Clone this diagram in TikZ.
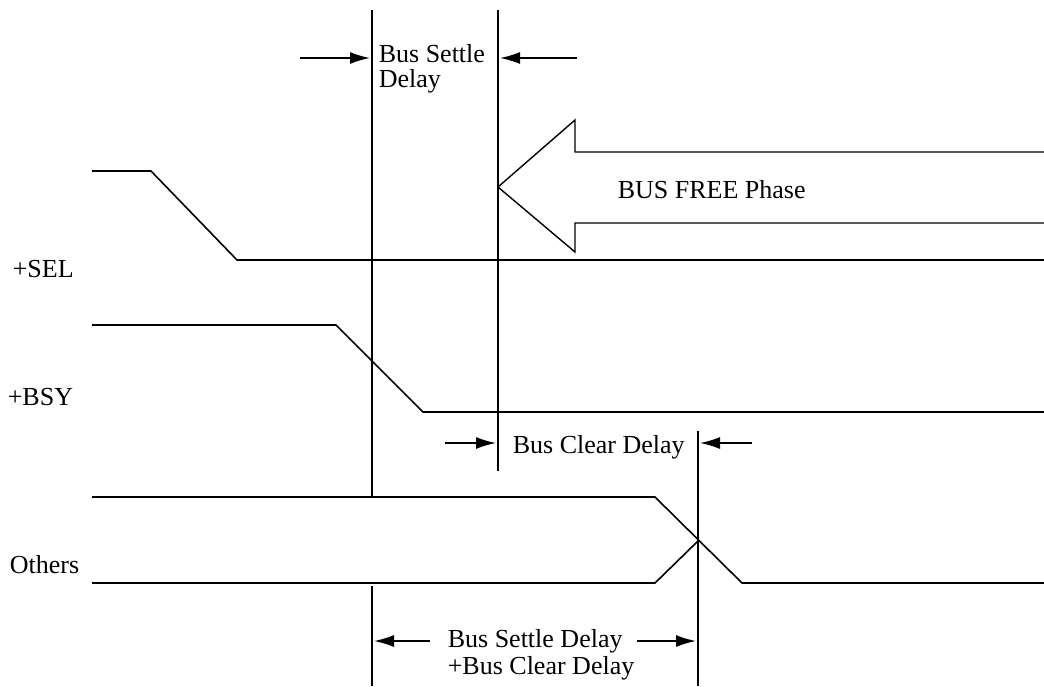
\documentclass[tikz,border=0pt]{standalone}
\usepackage{fontspec}
\setmainfont{Liberation Serif}
\usetikzlibrary{arrows.meta, positioning}

\begin{document}
\begin{tikzpicture}[x=1pt, y=-1pt, >={Latex[length=20pt,width=12pt]}, line width=1.6pt,
    txt/.style={font=\fontsize{26}{25}\selectfont, inner sep=0pt, align=left},
    outline/.style={line width=1.4pt, line join=miter}]
    \useasboundingbox (0,0) rectangle (1044,686);

    % Marker lines
    \coordinate (settleTop) at (372,10);
    \coordinate (settleMid) at (372,497);
    \coordinate (settleLow) at (372,586);
    \coordinate (settleBot) at (372,686);
    \coordinate (clearTop) at (498,10);
    \coordinate (clearBot) at (498,471);
    \coordinate (endTop) at (698,431);
    \coordinate (endBot) at (698,686);
    \draw (settleTop) -- (settleMid);
    \draw (settleLow) -- (settleBot);
    \draw (clearTop) -- (clearBot);
    \draw (endTop) -- (endBot);

    % Signal names
    \node [txt, anchor=base west] (sel) at (12,277) {+SEL};
    \node [txt, anchor=base west] (bsy) at (7,405) {+BSY};
    \node [txt, anchor=base west] (others) at (9,573) {Others};

    % Waveforms
    \draw (92,171) -- (151,171) -- (237,260) -- (1044,260);
    \draw (92,325) -- (336,325) -- (423,412) -- (1044,412);
    \draw (92,497) -- (655,497) -- (742,583) -- (1044,583);
    \draw (92,583) -- (655,583) -- (698,541);

    % BUS FREE arrow
    \draw [outline] (1044,152) -- (575,152) -- (575,120) -- (498,187)
        -- (575,252) -- (575,223) -- (1044,223);
    \node [txt, anchor=base west] (free) at (617,198) {BUS FREE Phase};

    % Bus Settle Delay
    \node [txt, anchor=north west] (settle) at (378,44) {Bus Settle\\Delay};
    \coordinate (settleInL) at (300,58);
    \coordinate (settleTipL) at (370,58);
    \coordinate (settleInR) at (577,58);
    \coordinate (settleTipR) at (500,58);
    \draw [->] (settleInL) -- (settleTipL);
    \draw [->] (settleInR) -- (settleTipR);

    % Bus Clear Delay
    \node [txt, anchor=base west] (clear) at (512,453) {Bus Clear Delay};
    \coordinate (clearInL) at (445,443);
    \coordinate (clearTipL) at (496,443);
    \coordinate (clearInR) at (752,443);
    \coordinate (clearTipR) at (700,443);
    \draw [->] (clearInL) -- (clearTipL);
    \draw [->] (clearInR) -- (clearTipR);

    % Total delay
    \node [txt, anchor=north west] (total) at (447,629) {Bus Settle Delay\\[2pt]+Bus Clear Delay};
    \coordinate (totalInL) at (430,641);
    \coordinate (totalTipL) at (374,641);
    \coordinate (totalInR) at (637,641);
    \coordinate (totalTipR) at (696,641);
    \draw [->] (totalInL) -- (totalTipL);
    \draw [->] (totalInR) -- (totalTipR);
\end{tikzpicture}
\end{document}
